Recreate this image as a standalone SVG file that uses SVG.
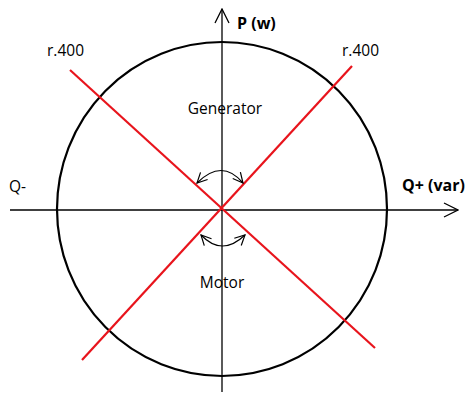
<svg xmlns="http://www.w3.org/2000/svg" width="467" height="396" viewBox="0 0 467 396">
<defs>
<style>
.ax{stroke:#000;stroke-width:1.3;fill:none}
.red{stroke:#e8141c;stroke-width:2.2;fill:none}
.arc{stroke:#000;stroke-width:1.2;fill:none}
text{font-family:"Open Sans","Liberation Sans",sans-serif;font-size:15.5px;fill:#000}
.b{font-weight:bold;font-size:16px}
</style>
<marker id="ah" viewBox="0 0 12 12" refX="11" refY="6" markerWidth="12" markerHeight="12" markerUnits="userSpaceOnUse" orient="auto-start-reverse">
<path d="M1,1 L11,6 L1,11" fill="none" stroke="#000" stroke-width="1.2"/>
</marker>
<marker id="big" viewBox="0 0 16 16" refX="15" refY="8" markerWidth="16" markerHeight="16" markerUnits="userSpaceOnUse" orient="auto">
<path d="M1,1 L15,8 L1,15" fill="none" stroke="#000" stroke-width="1.3"/>
</marker>
</defs>
<rect width="467" height="396" fill="#fff"/>
<g id="circle"><ellipse cx="222" cy="209" rx="165" ry="167" fill="none" stroke="#000" stroke-width="2.2"/></g>
<g id="connectors">
<line class="ax" x1="10" y1="210" x2="458" y2="210" marker-end="url(#big)"/>
<line class="ax" x1="222" y1="392" x2="222" y2="9" marker-end="url(#big)"/>
<line class="red" x1="70" y1="70" x2="375" y2="348"/>
<line class="red" x1="352" y1="66" x2="82" y2="360"/>
<path class="arc" d="M197,183 Q222,158 243,183" marker-start="url(#ah)" marker-end="url(#ah)"/>
<path class="arc" d="M201,235 Q222,257 245,235" marker-start="url(#ah)" marker-end="url(#ah)"/>
</g>
<g id="labels">
<text class="b" x="237" y="29">P (w)</text>
<text class="b" x="402" y="191">Q+ (var)</text>
<text x="9" y="192">Q-</text>
<text x="47" y="56">r.400</text>
<text x="342" y="56">r.400</text>
<text x="225" y="114" text-anchor="middle">Generator</text>
<text x="222" y="288" text-anchor="middle">Motor</text>
</g>
</svg>
